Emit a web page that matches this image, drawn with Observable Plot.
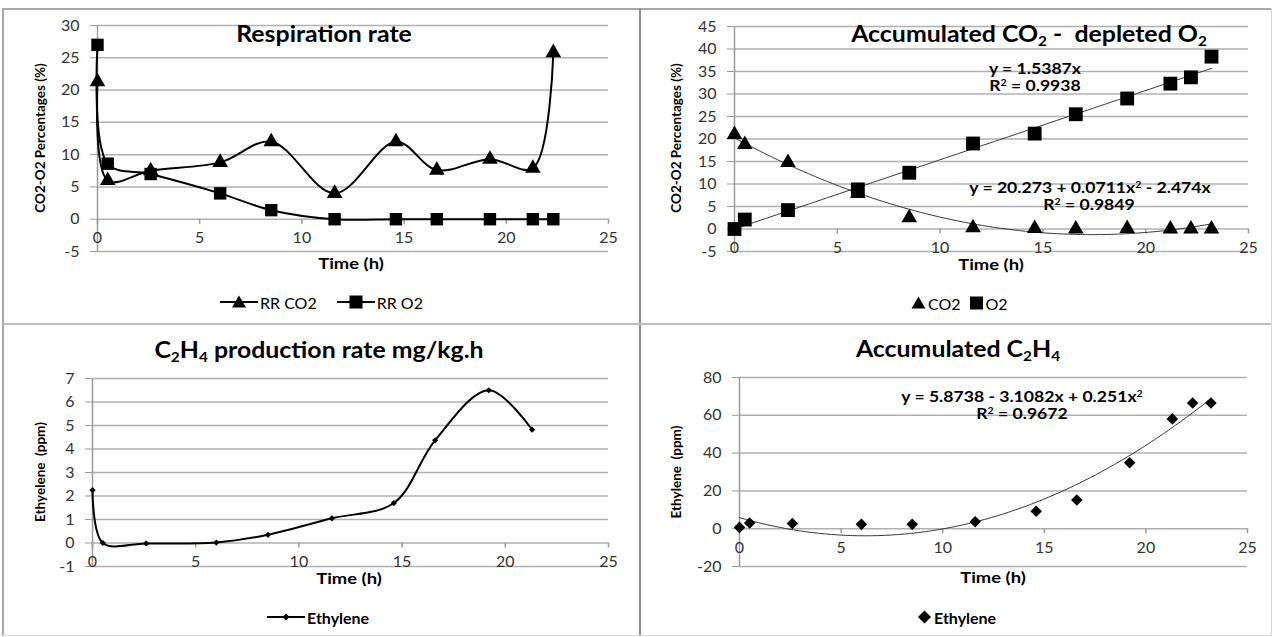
<!DOCTYPE html>
<html>
<head>
<meta charset="utf-8">
<script src="https://cdn.jsdelivr.net/npm/d3@7"></script>
<script src="https://cdn.jsdelivr.net/npm/@observablehq/plot@0.6"></script>
<style>
  html, body { margin: 0; padding: 0; background: #fff; }
  #root { position: relative; width: 1272px; height: 637px; overflow: hidden; font-family: Lato, "Open Sans", sans-serif; color: #000; }
  .line { position: absolute; }
  .t { position: absolute; white-space: nowrap; transform: translate(-50%, -50%); line-height: 1; }
  .title { font-weight: bold; font-size: 22px; transform: translate(-50%, -50%) scaleX(1.13); }
  .title sub { font-size: 0.62em; vertical-align: -0.3em; line-height: 0; }
  .axt { font-weight: bold; font-size: 16px; transform: translate(-50%, -50%) scaleX(1.15); }
  .yt { font-weight: bold; font-size: 13.5px; transform: translate(-50%, -50%) rotate(-90deg); }
  .eq { font-weight: bold; font-size: 16px; transform: translate(-50%, -50%) scaleX(1.1); }
  .eq sup { font-size: 0.6em; vertical-align: 0.55em; line-height: 0; }
  .leg { position: absolute; display: flex; align-items: center; white-space: nowrap; font-size: 16px; transform: translateY(-50%); }
  .leg svg { display: block; }
</style>
</head>
<body>
<div id="root"></div>
<script>
// ---------- data ----------
const xTicks = [0, 5, 10, 15, 20, 25];

// Panel 1: Respiration rate
const timeRR = [0, 0.5, 2.6, 6, 8.5, 11.6, 14.6, 16.6, 19.2, 21.3, 22.3];
const rrCO2 = [21.3, 6.0, 7.5, 8.8, 12.0, 4.0, 12.0, 7.6, 9.3, 7.9, 25.8];
const rrO2 = [27.0, 8.6, 7.0, 4.0, 1.4, 0, 0, 0, 0, 0, 0];
const yTicksRR = [-5, 0, 5, 10, 15, 20, 25, 30];

// Panel 2: Accumulated CO2 - depleted O2
const timeAcc = [0, 0.5, 2.6, 6, 8.5, 11.6, 14.6, 16.6, 19.1, 21.2, 22.2, 23.2];
const accCO2 = [21.0, 18.8, 14.8, 7.9, 2.5, 0.3, 0.1, 0, 0.1, 0, 0, 0];
const accO2 = [0, 2.1, 4.2, 8.8, 12.5, 19.0, 21.2, 25.5, 29.0, 32.3, 33.7, 38.3];
const yTicksAcc = [-5, 0, 5, 10, 15, 20, 25, 30, 35, 40, 45];
// trendline coefficients [c0, c1, c2] for y = c0 + c1 x + c2 x^2
const fitO2 = [0, 1.5387, 0];
const fitCO2 = [20.273, -2.474, 0.0711];

// Panel 3: C2H4 production rate
const timeEth = [0, 0.5, 2.6, 6, 8.5, 11.6, 14.6, 16.6, 19.2, 21.3];
const ethRate = [2.25, 0, -0.02, 0.02, 0.35, 1.05, 1.7, 4.37, 6.5, 4.82];
const yTicksEthRate = [-1, 0, 1, 2, 3, 4, 5, 6, 7];

// Panel 4: Accumulated C2H4
const timeEthAcc = [0, 0.5, 2.6, 6, 8.5, 11.6, 14.6, 16.6, 19.2, 21.3, 22.3, 23.2];
const ethAcc = [0.7, 3.0, 2.8, 2.3, 2.3, 3.7, 9.2, 15.2, 34.9, 58.1, 66.5, 66.5];
const yTicksEthAcc = [-20, 0, 20, 40, 60, 80];
const fitEth = [5.8738, -3.1082, 0.251];

// ---------- helpers ----------
const GRID = "#b0b0b0";
const AXIS = "#9a9a9a";
const TICKTXT = "#333";
const root = document.getElementById("root");

const pairs = (xs, ys) => xs.map((t, i) => ({t, v: ys[i]}));
const poly = (c, xMax) => d3.range(0, xMax + 1e-9, xMax / 200).map(t => ({t, v: c[0] + c[1] * t + c[2] * t * t}));

function line(l, t, w, h, c) {
  const d = document.createElement("div");
  d.className = "line";
  Object.assign(d.style, {left: l + "px", top: t + "px", width: w + "px", height: h + "px", background: c});
  root.appendChild(d);
}
function text(html, x, y, cls) {
  const d = document.createElement("div");
  d.className = "t " + cls;
  d.style.left = x + "px"; d.style.top = y + "px";
  d.innerHTML = html;
  root.appendChild(d);
  return d;
}
function symSvg(kind, withLine) {
  const w = withLine ? 38 : 15, h = 15, cx = w / 2, cy = 7.5;
  let s = `<svg width="${w}" height="${h}">`;
  if (withLine) s += `<line x1="0" x2="${w}" y1="${cy}" y2="${cy}" stroke="#000" stroke-width="2"/>`;
  if (kind === "tri") s += `<path d="M${cx},${cy - 6.5}L${cx + 7},${cy + 5.5}L${cx - 7},${cy + 5.5}Z" fill="#000"/>`;
  if (kind === "sq") s += `<rect x="${cx - 6.5}" y="${cy - 6.5}" width="13" height="13" fill="#000"/>`;
  if (kind === "dia") s += `<path d="M${cx},${cy - 6.5}L${cx + 6.5},${cy}L${cx},${cy + 6.5}L${cx - 6.5},${cy}Z" fill="#000"/>`;
  if (kind === "dias") s += `<path d="M${cx},${cy - 3.5}L${cx + 3.5},${cy}L${cx},${cy + 3.5}L${cx - 3.5},${cy}Z" fill="#000"/>`;
  return s + "</svg>";
}
function legend(x, y, items, bold) {
  const d = document.createElement("div");
  d.className = "leg";
  d.style.left = x + "px"; d.style.top = y + "px";
  if (bold) d.style.fontWeight = "bold";
  d.innerHTML = items.map(it => `${symSvg(it.sym, it.line)}<span style="margin:0 ${it.gap || 10}px 0 2px">${it.label}</span>`).join("");
  root.appendChild(d);
}

function panel(cfg) {
  const svg = Plot.plot({
    width: cfg.w, height: cfg.h,
    marginLeft: cfg.ml, marginRight: cfg.mr, marginTop: cfg.mt, marginBottom: cfg.mb,
    x: {domain: [0, 25], axis: null},
    y: {domain: cfg.yDomain, axis: null},
    style: {fontFamily: "Lato, sans-serif", fontSize: "16px", color: TICKTXT, background: "none", overflow: "visible"},
    marks: [
      Plot.ruleY(cfg.yTicks, {stroke: GRID, strokeWidth: 1.5}),
      Plot.ruleX([0], {stroke: AXIS, strokeWidth: 1.5}),
      Plot.axisY({ticks: cfg.yTicks, tickSize: 7, tickPadding: 11, tickFormat: d => String(d), stroke: AXIS, fill: TICKTXT, label: null, fontSize: 16}),
      Plot.ruleX(xTicks, {x: d => d, y1: 0, y2: 0, insetBottom: -5, stroke: AXIS, strokeWidth: 1.5}),
      Plot.text(xTicks, {x: d => d, y: 0, dy: 19, text: d => String(d), fill: TICKTXT, fontSize: 16}),
      ...cfg.marks
    ]
  });
  Object.assign(svg.style, {position: "absolute", left: cfg.left + "px", top: cfg.top + "px"});
  root.appendChild(svg);
}

// ---------- borders ----------
line(3, 8, 1269, 2, "#a8a8a8");
line(2, 8, 2, 628, "#a8a8a8");
line(639, 8, 2, 628, "#8e8e8e");
line(3, 323, 1269, 2, "#bdbdbd");
line(3, 635, 1269, 1, "#d8d8d8");
line(1271, 8, 1, 628, "#d8d8d8");

// ---------- Panel 1 ----------
const p1a = pairs(timeRR, rrCO2), p1b = pairs(timeRR, rrO2);
panel({
  left: 3, top: 9, w: 637, h: 315, ml: 94, mr: 32, mt: 16, mb: 73,
  yDomain: [-5, 30], yTicks: yTicksRR,
  marks: [
    Plot.line(p1a, {x: "t", y: "v", curve: "catmull-rom", stroke: "#000", strokeWidth: 2}),
    Plot.line(p1b, {x: "t", y: "v", curve: "catmull-rom", stroke: "#000", strokeWidth: 2}),
    Plot.dot(p1a, {x: "t", y: "v", symbol: "triangle", r: 5.8, fill: "#000"}),
    Plot.dot(p1b, {x: "t", y: "v", symbol: "square", r: 7, fill: "#000"})
  ]
});
text("Respiration rate", 324, 34, "title");
text("CO2-O2 Percentages (%)", 41, 138, "yt");
text("Time (h)", 351, 263, "axt");
legend(220, 302, [{sym: "tri", line: true, label: "RR CO2", gap: 20}, {sym: "sq", line: true, label: "RR O2"}]);

// ---------- Panel 2 ----------
const p2a = pairs(timeAcc, accCO2), p2b = pairs(timeAcc, accO2);
panel({
  left: 640, top: 9, w: 632, h: 315, ml: 94, mr: 24, mt: 17, mb: 73,
  yDomain: [-5, 45], yTicks: yTicksAcc,
  marks: [
    Plot.line(poly(fitO2, 23.2), {x: "t", y: "v", stroke: "#333", strokeWidth: 1}),
    Plot.line(poly(fitCO2, 23.2), {x: "t", y: "v", stroke: "#333", strokeWidth: 1}),
    Plot.dot(p2a, {x: "t", y: "v", symbol: "triangle", r: 5.8, fill: "#000"}),
    Plot.dot(p2b, {x: "t", y: "v", symbol: "square", r: 7.8, fill: "#000"})
  ]
});
text("Accumulated CO<sub>2</sub> -&nbsp; depleted O<sub>2</sub>", 1029, 34, "title");
text("CO2-O2 Percentages (%)", 677, 138, "yt");
text("Time (h)", 991, 264, "axt");
text("y = 1.5387x", 1035, 68, "eq");
text("R<sup>2</sup> = 0.9938", 1035, 85, "eq");
text("y = 20.273 + 0.0711x<sup>2</sup> - 2.474x", 1090, 187, "eq");
text("R<sup>2</sup> = 0.9849", 1089, 204, "eq");
legend(911, 303, [{sym: "tri", label: "CO2", gap: 8}, {sym: "sq", label: "O2"}]);

// ---------- Panel 3 ----------
const p3 = pairs(timeEth, ethRate);
panel({
  left: 3, top: 324, w: 637, h: 312, ml: 89, mr: 32, mt: 54, mb: 70,
  yDomain: [-1, 7], yTicks: yTicksEthRate,
  marks: [
    Plot.line(p3, {x: "t", y: "v", curve: "catmull-rom", stroke: "#000", strokeWidth: 2}),
    Plot.dot(p3, {x: "t", y: "v", symbol: "diamond2", r: 2.8, fill: "#000"})
  ]
});
text("C<sub>2</sub>H<sub>4</sub> production rate mg/kg.h", 319, 350, "title");
text("Ethyelene&nbsp; (ppm)", 41, 472, "yt");
text("Time (h)", 349, 578, "axt");
legend(267, 617, [{sym: "dias", line: true, label: "Ethylene"}], true);

// ---------- Panel 4 ----------
const p4 = pairs(timeEthAcc, ethAcc);
panel({
  left: 640, top: 324, w: 632, h: 312, ml: 99, mr: 25, mt: 53, mb: 70,
  yDomain: [-20, 80], yTicks: yTicksEthAcc,
  marks: [
    Plot.line(poly(fitEth, 23.2), {x: "t", y: "v", stroke: "#333", strokeWidth: 1}),
    Plot.dot(p4, {x: "t", y: "v", symbol: "diamond2", r: 5.2, fill: "#000"})
  ]
});
text("Accumulated C<sub>2</sub>H<sub>4</sub>", 958, 349, "title");
text("Ethylene&nbsp; (ppm)", 677, 472, "yt");
text("Time (h)", 993, 577, "axt");
text("y = 5.8738 - 3.1082x + 0.251x<sup>2</sup>", 1022, 396, "eq");
text("R<sup>2</sup> = 0.9672", 1022, 413, "eq");
legend(917, 617, [{sym: "dia", label: "Ethylene"}], true);
</script>
</body>
</html>
